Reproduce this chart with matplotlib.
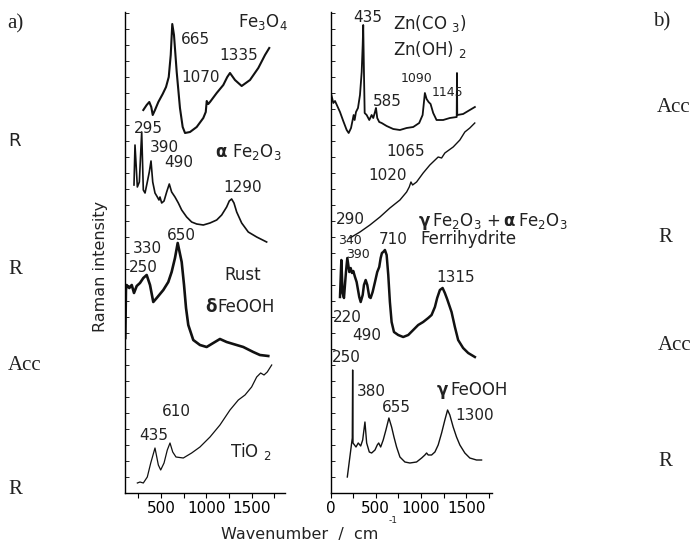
import matplotlib.pyplot as plt
from matplotlib.ticker import MultipleLocator

# ---- panel a) spectra: wavenumber (cm-1) and intensity above each trace offset (a.u.)
fe3o4_wn = [304, 341, 370, 392, 408, 433, 470, 518, 555, 585, 607, 624, 643, 673, 709, 739, 765, 820,
            894, 967, 994, 1005, 1022, 1041, 1115, 1188, 1232, 1262, 1317, 1391, 1483, 1575, 1649, 1696]
fe3o4_int = [23, 28, 31, 26, 18, 23, 31, 39, 46, 56, 78, 109, 98, 61, 25, 6, 0, 1,
             6, 15, 21, 32, 29, 31, 40, 48, 56, 60, 53, 47, 53, 65, 78, 85]

hematite_wn = [201, 212, 238, 260, 286, 304, 323, 348, 370, 389, 408, 433, 459, 477, 488, 507, 533, 562,
               591, 617, 654, 691, 728, 783, 838, 894, 967, 1041, 1115, 1170, 1225, 1254, 1280, 1306,
               1336, 1391, 1464, 1557, 1667]
hematite_int = [58, 98, 56, 61, 111, 53, 50, 61, 71, 82, 61, 50, 46, 43, 46, 40, 42, 51,
                59, 51, 46, 40, 33, 26, 21, 19, 18, 20, 23, 28, 36, 42, 44, 40,
                31, 20, 11, 6, 1]

rust_wn = [105, 112, 120, 149, 176, 201, 231, 267, 304, 341, 378, 414, 452, 525, 580, 617, 654, 684,
           728, 754, 776, 801, 856, 930, 1004, 1077, 1151, 1225, 1298, 1409, 1519, 1593, 1685]
rust_int = [20, 68, 73, 70, 73, 65, 72, 75, 80, 83, 73, 56, 60, 68, 76, 86, 100, 115,
            96, 73, 50, 33, 18, 13, 11, 15, 19, 16, 14, 11, 6, 3, 2]

tio2_wn = [238, 267, 304, 348, 386, 433, 470, 496, 533, 569, 599, 629, 665, 746, 838, 930, 1041,
           1151, 1262, 1354, 1428, 1501, 1557, 1601, 1638, 1674, 1723]
tio2_int = [0, 1, 0, 6, 20, 35, 18, 13, 20, 33, 40, 31, 26, 25, 30, 36, 46,
            58, 73, 83, 88, 96, 106, 110, 108, 111, 118]

# ---- panel b) spectra
zn_wn = [10, 31, 50, 75, 105, 141, 179, 201, 227, 245, 256, 267, 282, 304, 326, 345, 356, 362, 370, 378,
         400, 429, 455, 473, 492, 503, 517, 539, 566, 621, 694, 768, 842, 915, 981, 1019, 1044, 1063,
         1085, 1107, 1136, 1173, 1246, 1320, 1396, 1399, 1402, 1467, 1541, 1597]
zn_int = [38, 30, 32, 27, 21, 12, 3, 0, 5, 13, 18, 13, 21, 25, 38, 61, 88, 108, 61, 20,
          18, 13, 18, 15, 21, 25, 15, 11, 10, 7, 4, 3, 5, 6, 10, 18, 40, 34,
          31, 29, 20, 13, 13, 15, 16, 60, 18, 19, 23, 26]

bg_wn = [215, 326, 436, 547, 657, 768, 842, 871, 890, 908, 952, 1025, 1099, 1191, 1229, 1265,
         1357, 1431, 1486, 1541, 1596]
bg_int = [0, 6, 13, 21, 30, 38, 46, 51, 56, 53, 56, 65, 73, 81, 80, 85, 91, 98, 106, 110, 115]

ferri_wn = [105, 120, 134, 149, 171, 186, 208, 223, 238, 252, 271, 289, 318, 334, 356, 370, 389, 407,
            429, 444, 466, 492, 517, 539, 555, 569, 583, 602, 621, 639, 657, 676, 702, 749, 804, 860,
            915, 970, 1025, 1081, 1118, 1155, 1180, 1210, 1240, 1265, 1290, 1339, 1376, 1412, 1467,
            1523, 1597]
ferri_int = [61, 98, 65, 60, 86, 100, 86, 90, 85, 87, 81, 76, 61, 56, 63, 73, 78, 73,
             61, 60, 66, 76, 86, 91, 100, 105, 106, 108, 103, 83, 56, 36, 26, 23, 21, 23,
             28, 33, 36, 40, 43, 51, 60, 68, 70, 65, 59, 46, 31, 18, 10,
             5, 1]

lepido_wn = [186, 234, 241, 245, 249, 282, 307, 334, 356, 381, 400, 429, 455, 492, 517, 533, 555, 583,
             613, 646, 676, 702, 731, 768, 823, 878, 952, 1008, 1044, 1063, 1081, 1118, 1155, 1191,
             1229, 1265, 1295, 1320, 1357, 1394, 1431, 1486, 1541, 1615, 1671]
lepido_int = [1, 35, 40, 108, 35, 31, 35, 32, 38, 56, 35, 26, 25, 28, 33, 35, 31, 38,
              48, 60, 51, 41, 31, 21, 16, 15, 16, 20, 23, 25, 23, 23, 26, 33,
              45, 58, 68, 63, 51, 41, 33, 25, 20, 18, 18]

# stacking offsets of the traces (top to bottom)
offsets_a = [360, 250, 135, 10]
offsets_b = [360, 255, 135, 15]

W, H = 700, 546
fig = plt.figure(figsize=(W / 100, H / 100), dpi=100)
ax_a = fig.add_axes([124.5 / W, 53 / H, 160.5 / W, 481 / H])
ax_b = fig.add_axes([330.5 / W, 53 / H, 162 / W, 481 / H])


def style(ax, xlim):
    ax.set_xlim(*xlim)
    ax.set_ylim(0, 481)
    for s in ('top', 'right'):
        ax.spines[s].set_visible(False)
    for s in ('left', 'bottom'):
        ax.spines[s].set_linewidth(1.0)
    ax.xaxis.set_major_locator(MultipleLocator(500))
    ax.xaxis.set_minor_locator(MultipleLocator(250))
    ax.yaxis.set_major_locator(MultipleLocator(16))
    ax.tick_params(axis='x', which='both', direction='out', length=3.5, width=0.8,
                   labelsize=11, pad=2)
    ax.tick_params(axis='y', direction='in', length=3, width=0.6, labelleft=False)


style(ax_a, (96, 1870))
style(ax_b, (0, 1792))
ax_a.set_xticks([500, 1000, 1500])

traces_a = [(fe3o4_wn, fe3o4_int, 1.5), (hematite_wn, hematite_int, 1.2),
            (rust_wn, rust_int, 1.9), (tio2_wn, tio2_int, 0.9)]
for (wn, val, lw), off in zip(traces_a, offsets_a):
    ax_a.plot(wn, [v + off for v in val], color='#111111', lw=lw)

traces_b = [(zn_wn, zn_int, 1.3), (bg_wn, bg_int, 1.0),
            (ferri_wn, ferri_int, 1.8), (lepido_wn, lepido_int, 1.0)]
for (wn, val, lw), off in zip(traces_b, offsets_b):
    ax_b.plot(wn, [v + off for v in val], color='#111111', lw=lw)


def put(x, y, s, size=11, ha='center', **kw):
    fig.text(x / W, 1 - y / H, s, fontsize=size, ha=ha, va='center', color='#222222', **kw)


# peak labels and assignments, panel a
put(195, 39, "665")
put(239, 55, "1335")
put(201, 78, "1070")
put(238, 22, r"Fe$_3$O$_4$", size=12, ha='left')
put(148, 128, "295")
put(164, 148, "390")
put(179, 162, "490")
put(221, 152, "α", size=12, fontweight='bold')
put(232, 152, r"Fe$_2$O$_3$", size=12, ha='left')
put(243, 188, "1290")
put(181, 236, "650")
put(147, 249, "330")
put(143, 268, "250")
put(243, 275, "Rust", size=12)
put(211, 307, "δ", size=12, fontweight='bold')
put(217, 307, "FeOOH", size=12, ha='left')
put(176, 411, "610")
put(154, 435, "435")
put(230, 452, r"TiO $_2$", size=12, ha='left')

# peak labels and assignments, panel b
put(368, 18, "435")
put(393, 23, r"Zn(CO $_3$)", size=12, ha='left')
put(393, 50, r"Zn(OH) $_2$", size=12, ha='left')
put(417, 79, "1090", size=9)
put(447, 92, "1145", size=9)
put(387, 101, "585")
put(406, 152, "1065")
put(388, 175, "1020")
put(350, 219, "290")
put(424, 221, "γ", size=12, fontweight='bold')
put(432, 221, r"Fe$_2$O$_3$ +", size=12, ha='left')
put(509, 221, "α", size=12, fontweight='bold')
put(518, 221, r"Fe$_2$O$_3$", size=12, ha='left')
put(420, 239, "Ferrihydrite", size=12, ha='left')
put(350, 240, "340", size=9)
put(393, 239, "710")
put(358, 255, "390", size=9)
put(456, 278, "1315")
put(347, 318, "220")
put(367, 335, "490")
put(346, 357, "250")
put(371, 391, "380")
put(442, 390, "γ", size=12, fontweight='bold')
put(450, 390, "FeOOH", size=12, ha='left')
put(396, 408, "655")
put(475, 415, "1300")

# axis titles
put(100, 266, "Raman intensity", size=11.5, rotation=90)
put(300, 534, "Wavenumber  /  cm", size=11.5)
put(393, 520.5, "-1", size=6.5)

# panel letters and side marks
serif = dict(family='Liberation Serif')
put(7, 24, "a)", size=15, ha='left', **serif)
put(8, 141, "R", size=13, ha='left')
put(8, 269, "R", size=15, ha='left', **serif)
put(8, 366, "Acc", size=15, ha='left', **serif)
put(8, 490, "R", size=15, ha='left', **serif)
put(653, 22, "b)", size=15, ha='left', **serif)
put(657, 108, "Acc", size=15, ha='left', **serif)
put(658, 238, "R", size=15, ha='left', **serif)
put(658, 345, "Acc", size=15, ha='left', **serif)
put(658, 461, "R", size=15, ha='left', **serif)

fig.savefig("out.png", dpi=100, facecolor='white')
